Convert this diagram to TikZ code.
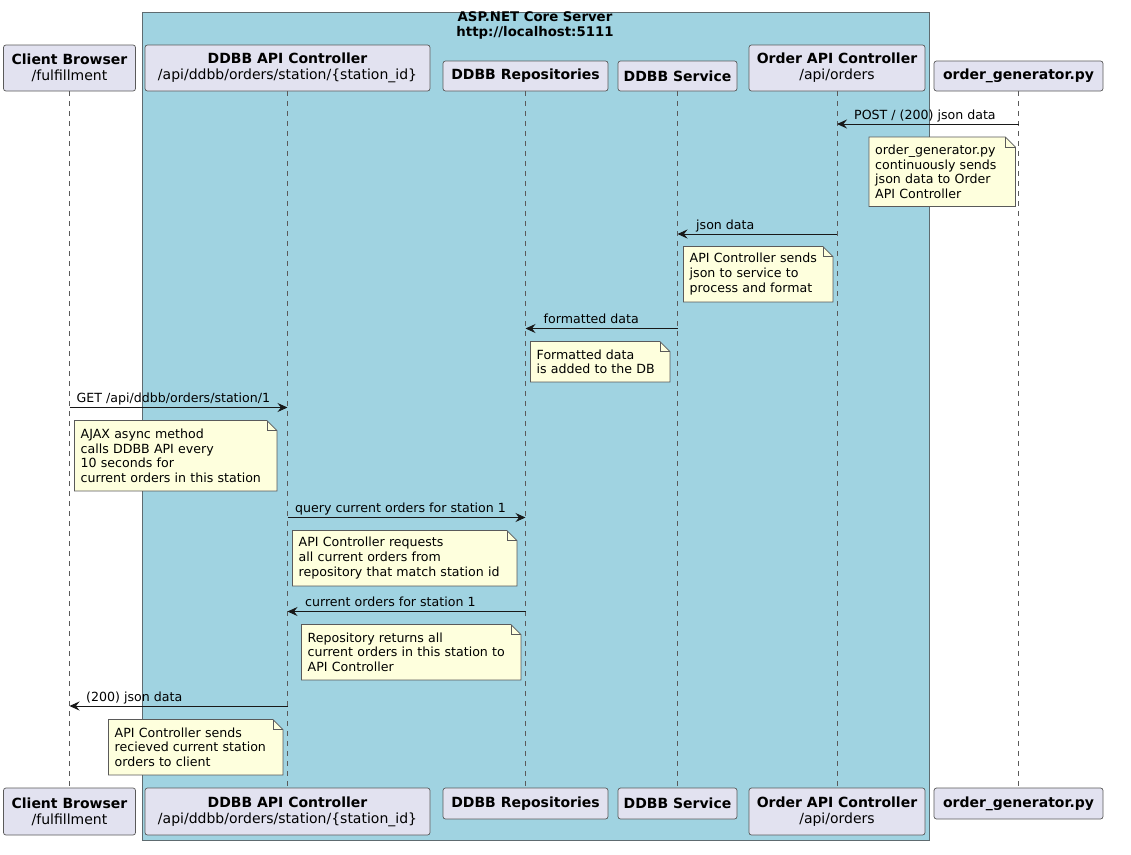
\documentclass[tikz,border=0pt]{standalone}
\usepackage{fontspec}
\setmainfont{DejaVu Sans}
\usetikzlibrary{arrows.meta}
\definecolor{boxblue}{HTML}{A0D3E1}
\definecolor{boxdraw}{HTML}{5E6B70}
\definecolor{partfill}{HTML}{E2E2F0}
\definecolor{partdraw}{HTML}{5A5A5A}
\definecolor{notefill}{HTML}{FEFFDD}
\definecolor{linecol}{HTML}{181818}
\pgfdeclarelayer{back}
\pgfdeclarelayer{noteback}
\pgfsetlayers{back,noteback,main}
\tikzset{
  part/.style={draw=partdraw, fill=partfill, rounded corners=2.5pt, line width=0.7pt,
    inner sep=0pt, align=center, font=\fontsize{14}{16}\selectfont},
  lifeline/.style={draw=partdraw, dash pattern=on 5pt off 5pt, line width=0.7pt},
  msg/.style={draw=linecol, line width=1pt, -{Stealth[length=10pt,width=9pt,inset=3.5pt]}},
  msglabel/.style={font=\fontsize{12.6}{15}\selectfont, inner sep=0pt, anchor=base west},
  notetext/.style={inner xsep=6pt, inner ysep=0pt, align=left, anchor=north west,
    font=\fontsize{12.6}{14.8}\selectfont},
  notebox/.style={draw=partdraw, fill=notefill, line width=0.7pt},
  serverbox/.style={draw=boxdraw, fill=boxblue, line width=0.8pt, inner sep=0pt},
  titletext/.style={font=\bfseries\fontsize{13.3}{15}\selectfont, align=center, inner sep=0pt},
}
\newcommand{\mknote}[6]{%
  \node[notetext, text width=#4-12pt, minimum height=#5] (#1) at (#2,#3) {#6};
  \begin{pgfonlayer}{noteback}
    \draw[notebox] (#1.north west) -- ([xshift=-10pt]#1.north east)
      -- ([yshift=-10pt]#1.north east) -- (#1.south east) -- (#1.south west) -- cycle;
    \draw[notebox, fill=none] ([xshift=-10pt]#1.north east) -- ([xshift=-10pt,yshift=-10pt]#1.north east)
      -- ([yshift=-10pt]#1.north east);
  \end{pgfonlayer}
}
\begin{document}
\begin{tikzpicture}[x=1pt,y=-1pt]
\useasboundingbox (0,0) rectangle (1131,854);

% server box
\begin{pgfonlayer}{back}
  \fill[white] (0,0) rectangle (1131,854);
  \node[serverbox, minimum width=787pt, minimum height=828pt] (server) at (535.5,426) {};
\end{pgfonlayer}
\node[titletext] (title) at (535,25.5) {ASP.NET Core Server\\http://localhost:5111};

% participants top
\node[part, minimum width=132pt, minimum height=46pt] (cbT) at (69.5,68) {\textbf{Client Browser}\\/fulfillment};
\node[part, minimum width=285pt, minimum height=46pt] (apiT) at (287.5,68) {\textbf{DDBB API Controller}\\/api/ddbb/orders/station/\{station\_id\}};
\node[part, minimum width=165pt, minimum height=30pt] (repT) at (525.5,76) {\textbf{DDBB Repositories}};
\node[part, minimum width=119pt, minimum height=30pt] (svcT) at (677.5,76) {\textbf{DDBB Service}};
\node[part, minimum width=176pt, minimum height=46pt] (ordT) at (837,68) {\textbf{Order API Controller}\\/api/orders};
\node[part, minimum width=169pt, minimum height=30pt] (genT) at (1018.5,76) {\textbf{order\_generator.py}};

% participants bottom
\node[part, minimum width=132pt, minimum height=47pt] (cbB) at (69.5,811.5) {\textbf{Client Browser}\\/fulfillment};
\node[part, minimum width=285pt, minimum height=47pt] (apiB) at (287.5,811.5) {\textbf{DDBB API Controller}\\/api/ddbb/orders/station/\{station\_id\}};
\node[part, minimum width=165pt, minimum height=31pt] (repB) at (525.5,803.5) {\textbf{DDBB Repositories}};
\node[part, minimum width=119pt, minimum height=31pt] (svcB) at (677.5,803.5) {\textbf{DDBB Service}};
\node[part, minimum width=176pt, minimum height=47pt] (ordB) at (837,811.5) {\textbf{Order API Controller}\\/api/orders};
\node[part, minimum width=169pt, minimum height=31pt] (genB) at (1018.5,803.5) {\textbf{order\_generator.py}};

% lifelines
\draw[lifeline] (cbT.south) -- (cbB.north);
\draw[lifeline] (apiT.south) -- (apiB.north);
\draw[lifeline] (repT.south) -- (repB.north);
\draw[lifeline] (svcT.south) -- (svcB.north);
\draw[lifeline] (ordT.south) -- (ordB.north);
\draw[lifeline] (genT.south) -- (genB.north);

% message 1
\coordinate (m1a) at (1018.5,124);
\coordinate (m1b) at (837,124);
\draw[msg] (m1a) -- (m1b);
\node[msglabel] (l1) at (854,119) {POST / (200) json data};
\mknote{n1}{869}{137}{146pt}{69pt}{order\_generator.py\\continuously sends\\json data to Order\\API Controller}

% message 2
\coordinate (m2a) at (837,234);
\coordinate (m2b) at (677.5,234);
\draw[msg] (m2a) -- (m2b);
\node[msglabel] (l2) at (696,229) {json data};
\mknote{n2}{683.5}{246.5}{149pt}{55pt}{API Controller sends\\json to service to\\process and format}

% message 3
\coordinate (m3a) at (677.5,328.5);
\coordinate (m3b) at (525.5,328.5);
\draw[msg] (m3a) -- (m3b);
\node[msglabel] (l3) at (543.5,323.5) {formatted data};
\mknote{n3}{530.5}{341.5}{139pt}{40pt}{Formatted data\\is added to the DB}

% message 4
\coordinate (m4a) at (69.5,407.5);
\coordinate (m4b) at (287.5,407.5);
\draw[msg] (m4a) -- (m4b);
\node[msglabel] (l4) at (76.5,402.5) {GET /api/ddbb/orders/station/1};
\mknote{n4}{74.5}{420.5}{202pt}{70pt}{AJAX async method\\calls DDBB API every\\10 seconds for\\current orders in this station}

% message 5
\coordinate (m5a) at (287.5,517.5);
\coordinate (m5b) at (525.5,517.5);
\draw[msg] (m5a) -- (m5b);
\node[msglabel] (l5) at (295,512.5) {query current orders for station 1};
\mknote{n5}{292.5}{530.5}{224pt}{55pt}{API Controller requests\\all current orders from\\repository that match station id}

% message 6
\coordinate (m6a) at (525.5,611.5);
\coordinate (m6b) at (287.5,611.5);
\draw[msg] (m6a) -- (m6b);
\node[msglabel] (l6) at (305,606.5) {current orders for station 1};
\mknote{n6}{301.5}{624.5}{219pt}{55pt}{Repository returns all\\current orders in this station to\\API Controller}

% message 7
\coordinate (m7a) at (287.5,706);
\coordinate (m7b) at (69.5,706);
\draw[msg] (m7a) -- (m7b);
\node[msglabel] (l7) at (86,701) {(200) json data};
\mknote{n7}{108.5}{719.5}{174pt}{55pt}{API Controller sends\\recieved current station\\orders to client}
\end{tikzpicture}
\end{document}
